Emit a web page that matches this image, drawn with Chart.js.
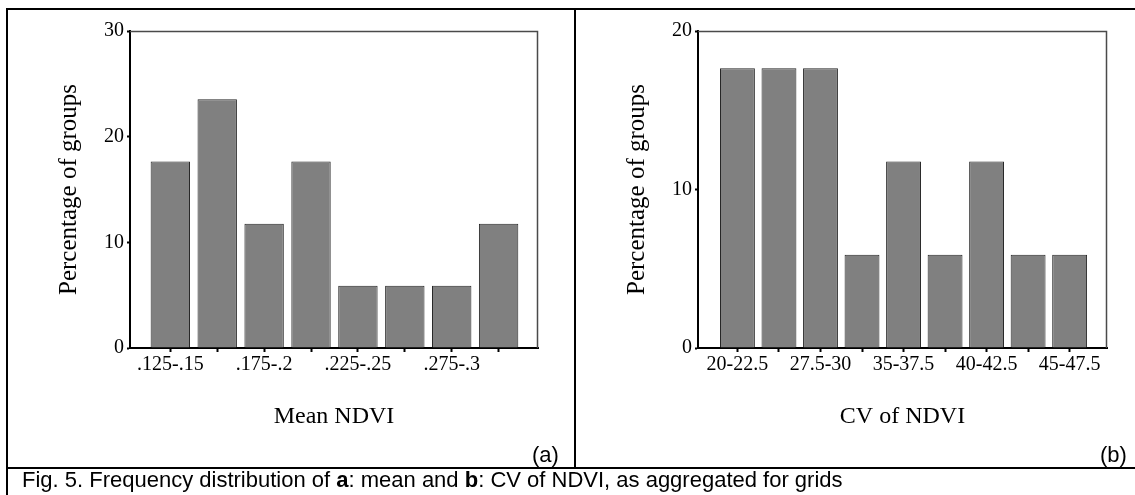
<!DOCTYPE html>
<html>
<head>
<meta charset="utf-8">
<script src="https://cdn.jsdelivr.net/npm/chart.js@4.4.1/dist/chart.umd.min.js"></script>
<style>
  body { margin: 0; background: #fff; }
  #page { position: relative; width: 1135px; height: 495px; overflow: hidden; background: #fff; }
  .line { position: absolute; background: #000; }
  .panel { position: absolute; top: 10px; height: 457px; }
  .tag { position: absolute; font-family: "Liberation Sans", Arial, sans-serif; font-size: 22px; color: #000; }
  #caption { position: absolute; left: 22px; top: 467px; font-family: "Liberation Sans", Arial, sans-serif; font-size: 22px; color: #000; white-space: nowrap; }
</style>
</head>
<body>
<div id="page">
  <div class="line" style="left:6px; top:8px; width:1200px; height:2px;"></div>
  <div class="line" style="left:6px; top:8px; width:2px; height:500px;"></div>
  <div class="line" style="left:574px; top:8px; width:2px; height:460px;"></div>
  <div class="line" style="left:6px; top:467px; width:1200px; height:2px;"></div>

  <div class="panel" style="left:8px; width:566px;"><canvas id="chartA"></canvas></div>
  <div class="panel" style="left:576px; width:559px;"><canvas id="chartB"></canvas></div>

  <div class="tag" style="left:532px; top:442px;">(a)</div>
  <div class="tag" style="left:1100px; top:442px;">(b)</div>

  <div id="caption">Fig. 5. Frequency distribution of <b>a</b>: mean and <b>b</b>: CV of NDVI, as aggregated for grids</div>
</div>

<script>
// Mean NDVI classes (17 groups)
const catsA = ['.125-.15', '.15-.175', '.175-.2', '.2-.225', '.225-.25', '.25-.275', '.275-.3', '.3-.325'];
const valsA = [17.65, 23.53, 11.76, 17.65, 5.88, 5.88, 5.88, 11.76];
const ticksA = [0, 10, 20, 30];

// CV of NDVI classes, only the ones with groups
const catsB = ['20-22.5', '22.5-25', '27.5-30', '32.5-35', '35-37.5', '37.5-40', '40-42.5', '42.5-45', '45-47.5'];
const valsB = [17.65, 17.65, 17.65, 5.88, 11.76, 5.88, 11.76, 5.88, 5.88];
const ticksB = [0, 10, 20];

const serif = 'Liberation Serif, Times New Roman, serif';

// thin grey lines closing the plot box on top and right
const boxLines = {
    id: 'boxLines',
    afterDraw(chart) {
        const a = chart.chartArea;
        const ctx = chart.ctx;
        ctx.save();
        ctx.strokeStyle = '#4a4a4a';
        ctx.lineWidth = 1.5;
        ctx.beginPath();
        ctx.moveTo(a.left, a.top + 0.5);
        ctx.lineTo(a.right - 0.5, a.top + 0.5);
        ctx.lineTo(a.right - 0.5, a.bottom);
        ctx.stroke();
        ctx.restore();
    }
};

function crearHistograma(id, cats, vals, yTicks, xTitle, xMin, xMax, rightPad) {
    const ctx = document.getElementById(id).getContext('2d');
    return new Chart(ctx, {
        type: 'bar',
        data: {
            datasets: [{
                data: vals.map((v, i) => ({ x: i, y: v })),
                backgroundColor: '#808080',
                borderColor: '#262626',
                borderWidth: 1,
                categoryPercentage: 1,
                barPercentage: 0.84
            }]
        },
        options: {
            responsive: true,
            maintainAspectRatio: false,
            animation: false,
            layout: { padding: { top: 21, right: rightPad, bottom: 0, left: 0 } },
            plugins: { legend: { display: false }, tooltip: { enabled: false } },
            scales: {
                x: {
                    type: 'linear',
                    offset: false,
                    min: xMin,
                    max: xMax,
                    afterBuildTicks: s => { s.ticks = cats.map((c, i) => ({ value: i })); },
                    afterFit: s => { s.height = 119; },
                    ticks: {
                        autoSkip: false,
                        maxRotation: 0,
                        padding: 1,
                        color: '#000',
                        font: { family: serif, size: 20 },
                        callback: v => (v % 2 === 0 ? cats[v] : '')
                    },
                    grid: { offset: false, drawOnChartArea: false, drawTicks: true, tickLength: 4, tickWidth: 2, tickColor: '#000' },
                    border: { display: true, color: '#000', width: 2 },
                    title: {
                        display: true,
                        text: xTitle,
                        color: '#000',
                        font: { family: serif, size: 24 },
                        padding: { top: 0, bottom: 36 }
                    }
                },
                y: {
                    min: 0,
                    max: yTicks[yTicks.length - 1],
                    afterBuildTicks: s => { s.ticks = yTicks.map(v => ({ value: v })); },
                    afterFit: s => { s.width = 122; },
                    ticks: {
                        padding: 3,
                        color: '#000',
                        font: { family: serif, size: 20 }
                    },
                    grid: { drawOnChartArea: false, drawTicks: true, tickLength: 3, tickWidth: 2, tickColor: '#000' },
                    border: { display: true, color: '#000', width: 2 },
                    title: {
                        display: true,
                        text: 'Percentage of groups',
                        color: '#000',
                        font: { family: serif, size: 25 },
                        padding: { top: 46, bottom: 0 }
                    }
                }
            }
        },
        plugins: [boxLines]
    });
}

crearHistograma('chartA', catsA, valsA, ticksA, 'Mean NDVI', -0.86, 7.84, 36);
crearHistograma('chartB', catsB, valsB, ticksB, 'CV of NDVI', -0.95, 8.9, 28);
</script>
</body>
</html>
